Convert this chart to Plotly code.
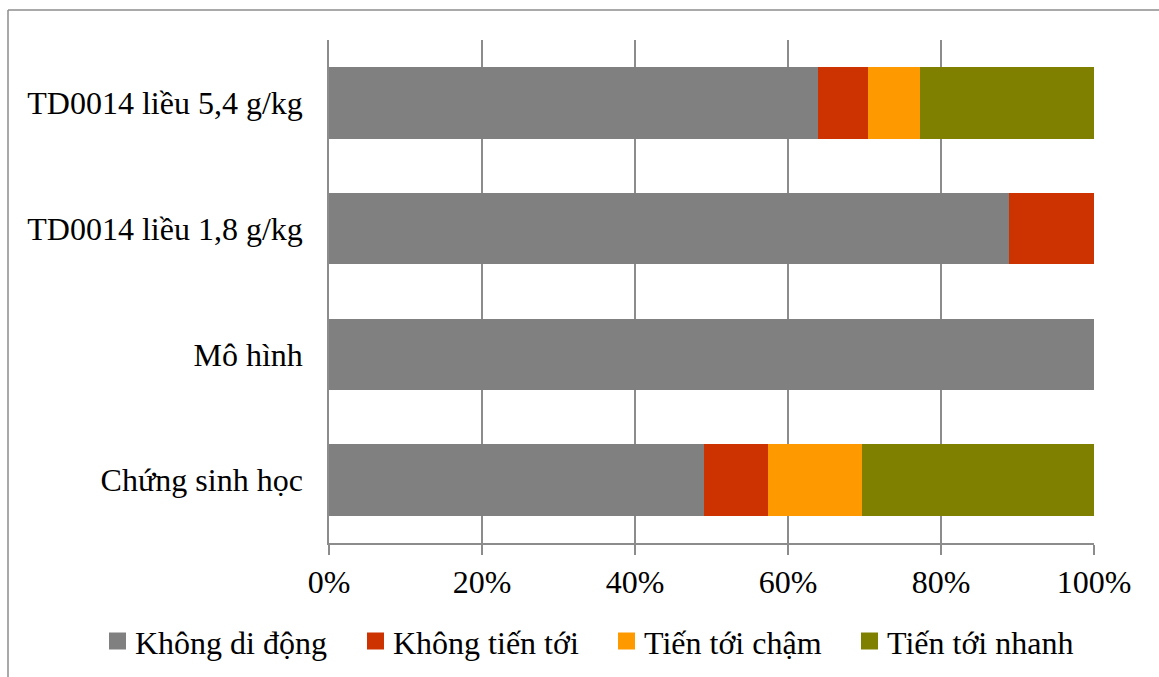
import plotly.graph_objects as go

# Groups (bottom to top) and motility shares in percent
groups = ["Chứng sinh học", "Mô hình", "TD0014 liều 1,8 g/kg", "TD0014 liều 5,4 g/kg"]
series_names = ["Không di động", "Không tiến tới", "Tiến tới chậm", "Tiến tới nhanh"]
khong_di_dong = [49.0, 100.0, 88.9, 63.9]
khong_tien_toi = [8.4, 0.0, 11.1, 6.5]
tien_toi_cham = [12.3, 0.0, 0.0, 6.8]
tien_toi_nhanh = [30.3, 0.0, 0.0, 22.8]
x_ticks = [0, 20, 40, 60, 80, 100]
x_tick_labels = ["0%", "20%", "40%", "60%", "80%", "100%"]

colors = ["#808080", "#CC3300", "#FF9900", "#808000"]
values = [khong_di_dong, khong_tien_toi, tien_toi_cham, tien_toi_nhanh]

FONT = dict(family="Liberation Serif, Times New Roman, serif", size=32, color="#000000")
GRID = "#8c8c8c"

W, H = 1159, 677
ML, MR, MT, MB = 329, 65, 40, 134
pw = W - ML - MR
ph = H - MT - MB


def px_x(px):
    return (px - ML) / pw


def px_y(py):
    return (H - MB - py) / ph


fig = go.Figure()
for name, vals, col in zip(series_names, values, colors):
    fig.add_trace(go.Bar(
        y=groups, x=vals, name=name, orientation="h",
        marker=dict(color=col, line=dict(width=0)),
        width=0.57, showlegend=False,
    ))

# Legend row laid out along the bottom: swatch left edge, then label
legend_x = [109, 367, 618, 861]
legend_cy = 641
sw = 17
shapes = []
annotations = []
for name, col, lx in zip(series_names, colors, legend_x):
    shapes.append(dict(
        type="rect", xref="paper", yref="paper",
        x0=px_x(lx), x1=px_x(lx + sw),
        y0=px_y(legend_cy + sw / 2), y1=px_y(legend_cy - sw / 2),
        fillcolor=col, line=dict(width=0),
    ))
    annotations.append(dict(
        text=name, xref="paper", yref="paper",
        x=px_x(lx + sw + 7), y=px_y(legend_cy + 2),
        xanchor="left", yanchor="middle", showarrow=False,
        font=FONT,
    ))

# Outer chart frame (top and left edges fall inside the page)
shapes.append(dict(
    type="line", xref="paper", yref="paper",
    x0=px_x(8), x1=px_x(W + 50), y0=px_y(10), y1=px_y(10),
    line=dict(color=GRID, width=1.5), layer="below",
))
shapes.append(dict(
    type="line", xref="paper", yref="paper",
    x0=px_x(8), x1=px_x(8), y0=px_y(10), y1=px_y(H + 50),
    line=dict(color=GRID, width=1.5), layer="below",
))

fig.update_layout(
    width=W, height=H,
    margin=dict(l=ML, r=MR, t=MT, b=MB, autoexpand=False),
    barmode="stack",
    paper_bgcolor="white", plot_bgcolor="white",
    font=FONT,
    showlegend=False,
    xaxis=dict(
        range=[0, 100], tickvals=x_ticks, ticktext=x_tick_labels,
        showgrid=True, gridcolor=GRID, gridwidth=1.5,
        showline=True, linecolor=GRID, linewidth=1.5,
        ticks="outside", ticklen=10, tickcolor=GRID, tickwidth=1.5,
        zeroline=False, ticklabelstandoff=0,
        tickfont=FONT,
    ),
    yaxis=dict(
        range=[-0.5, 3.5],
        categoryorder="array", categoryarray=groups,
        showgrid=False, showline=True, linecolor=GRID, linewidth=1.5,
        ticks="", ticklabelstandoff=18, tickfont=FONT, zeroline=False,
    ),
    shapes=shapes,
    annotations=annotations,
)

fig.write_html("out.html")
